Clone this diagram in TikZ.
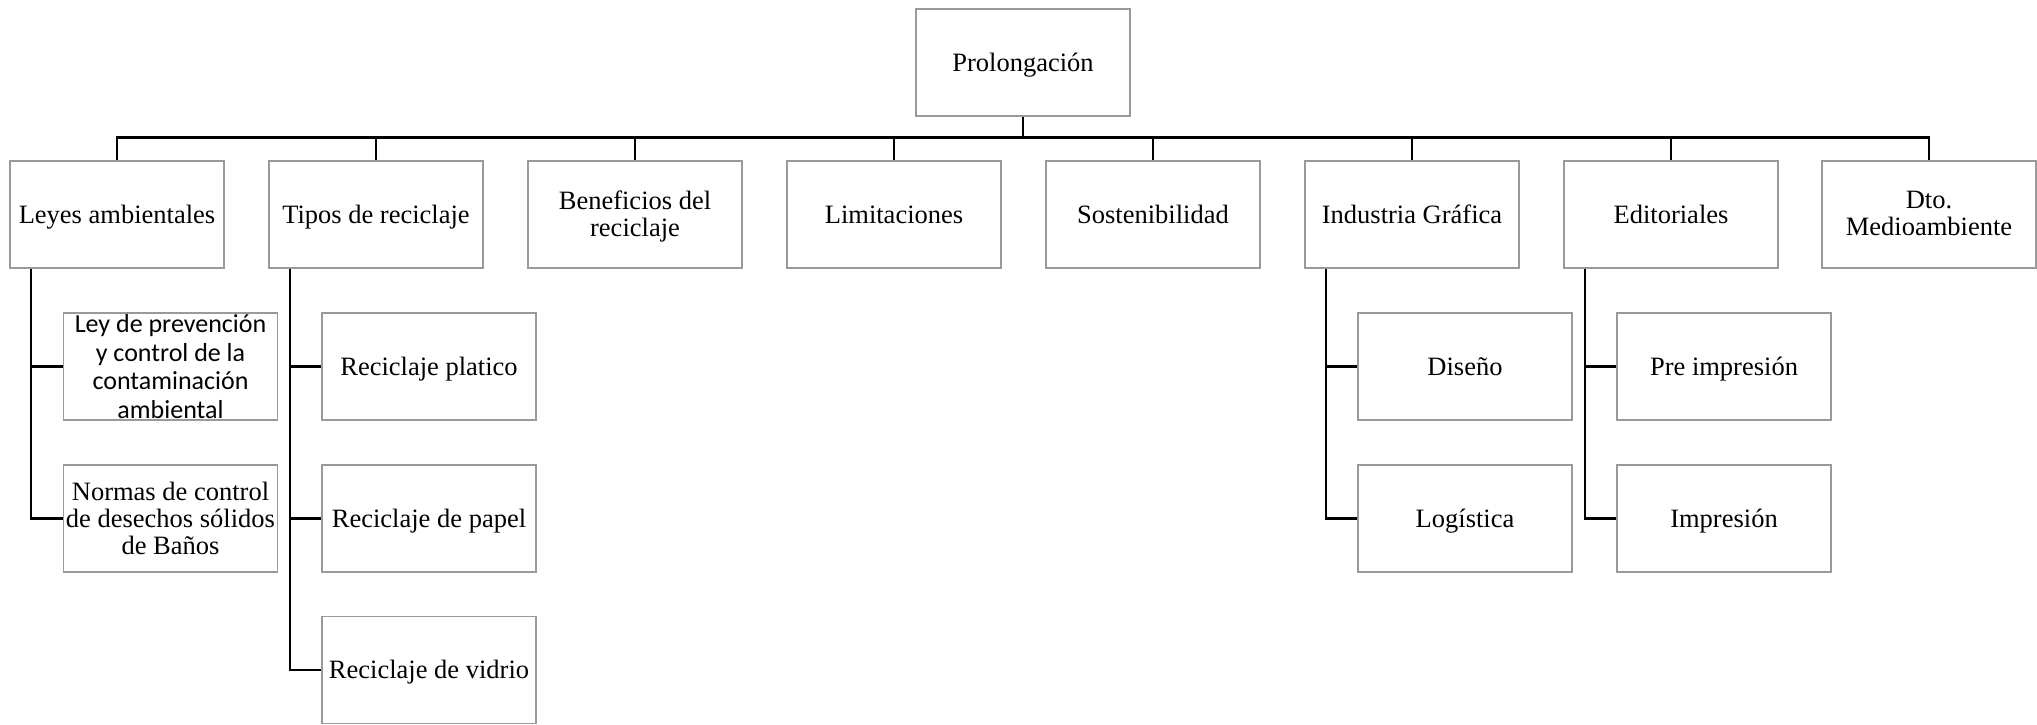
\documentclass[tikz,border=0pt]{standalone}
\usepackage{fontspec}
\setmainfont{Liberation Serif}
\newfontfamily\carlito{Carlito}
\definecolor{boxgray}{HTML}{9A9A9A}
\begin{document}
\begin{tikzpicture}[x=1pt,y=-1pt,
  box/.style={draw=boxgray, line width=1.4pt, fill=white, minimum width=214pt,
    minimum height=107pt, inner sep=0pt, align=center,
    font=\fontsize{26.5}{27.2}\selectfont},
  onebox/.style={box, text height=20.5pt, text depth=2.6pt},
  twobox/.style={box, text depth=2pt},
  conn/.style={line width=2.6pt, black}]
\useasboundingbox (0,0) rectangle (2037,725);
% root
\node[onebox] (root) at (1023,62.5) {Prolongación};
% level 1
\node[onebox] (ley) at (117,214.5) {Leyes ambientales};
\node[onebox] (tip) at (376,214.5) {Tipos de reciclaje};
\node[twobox] (ben) at (635,214.5) {Beneficios del\\reciclaje};
\node[onebox] (lim) at (894,214.5) {Limitaciones};
\node[onebox] (sos) at (1153,214.5) {Sostenibilidad};
\node[onebox] (ind) at (1412,214.5) {Industria Gráfica};
\node[onebox] (edi) at (1671,214.5) {Editoriales};
\node[twobox] (dto) at (1929,214.5) {Dto.\\Medioambiente};
% level 2
\node[box, label={[font=\carlito\fontsize{26}{28.8}\selectfont, align=center, inner sep=0pt]center:{Ley de prevención\\y control de la\\contaminación\\ambiental}}] (ley1) at (170.5,366.5) {};
\node[box] (ley2) at (170.5,518.3) {Normas de control\\de desechos sólidos\\de Baños};
\node[onebox] (tip1) at (429,366.5) {Reciclaje platico};
\node[onebox] (tip2) at (429,518.3) {Reciclaje de papel};
\node[onebox] (tip3) at (429,670) {Reciclaje de vidrio};
\node[onebox] (ind1) at (1465,366.5) {Diseño};
\node[onebox] (ind2) at (1465,518.3) {Logística};
\node[onebox] (edi1) at (1724,366.5) {Pre impresión};
\node[onebox] (edi2) at (1724,518.3) {Impresión};
% bus
\coordinate (bus) at (0,137.7);
\draw[conn] (ley.north) -- (ley.north |- bus) -- (dto.north |- bus) -- (dto.north);
\draw[conn] (root.south) -- (root.south |- bus);
\foreach \n in {tip,ben,lim,sos,ind,edi}
  \draw[conn] (\n.north |- bus) -- (\n.north);
% sub-branches
\coordinate (sley) at ([xshift=-86pt]ley.south);
\coordinate (stip) at ([xshift=-86pt]tip.south);
\coordinate (sind) at ([xshift=-86pt]ind.south);
\coordinate (sedi) at ([xshift=-86pt]edi.south);
\draw[conn] (sley) |- (ley2.west);
\draw[conn] (sley) |- (ley1.west);
\draw[conn] (stip) |- (tip3.west);
\draw[conn] (stip) |- (tip2.west);
\draw[conn] (stip) |- (tip1.west);
\draw[conn] (sind) |- (ind2.west);
\draw[conn] (sind) |- (ind1.west);
\draw[conn] (sedi) |- (edi2.west);
\draw[conn] (sedi) |- (edi1.west);
\end{tikzpicture}
\end{document}
